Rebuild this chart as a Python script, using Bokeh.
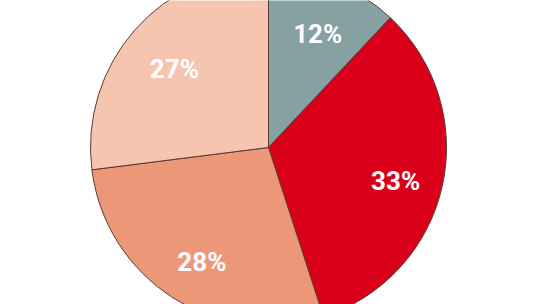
import math
from bokeh.plotting import figure
from bokeh.models import ColumnDataSource
from bokeh.core.properties import value
from bokeh.embed import file_html
from bokeh.resources import INLINE

labels = ["12%", "33%", "28%", "27%"]
shares = [12, 33, 28, 27]
colors = ["#87A1A2", "#DA001A", "#EC9878", "#F6C5AF"]

cx, cy, R = 268, 157, 178
total = sum(shares)
starts, ends, lx, ly = [], [], [], []
acc = 0.0
for s in shares:
    a0 = math.pi / 2 - 2 * math.pi * acc / total
    acc += s
    a1 = math.pi / 2 - 2 * math.pi * acc / total
    starts.append(a0)
    ends.append(a1)
    mid = (a0 + a1) / 2
    lx.append(cx + 2 + 0.72 * R * math.cos(mid))
    ly.append(cy - 6 + 0.72 * R * math.sin(mid))

src = ColumnDataSource(dict(start=starts, end=ends, color=colors, label=labels, lx=lx, ly=ly))

p = figure(width=540, height=304, x_range=(0, 540), y_range=(0, 304),
           output_backend="svg", toolbar_location=None, min_border=0)
p.axis.visible = False
p.grid.visible = False
p.outline_line_color = None
p.background_fill_color = "white"

p.wedge(x=cx, y=cy, radius=R, start_angle="start", end_angle="end", direction="clock",
        fill_color="color", line_color="#5a3b33", line_width=1, source=src)
p.text(x="lx", y="ly", text="label", source=src, text_color="white",
       text_font=value("Roboto"), text_font_style="bold", text_font_size="26px",
       text_align="center", text_baseline="middle")

open("out.html", "w").write(file_html(p, INLINE))
